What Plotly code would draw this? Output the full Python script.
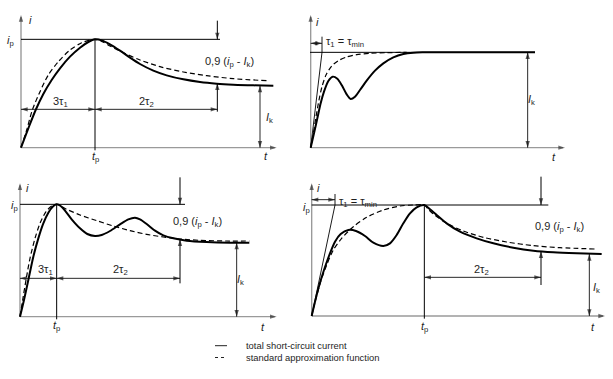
import plotly.graph_objects as go

FIG_W, FIG_H = 613, 379
UNITS_PER_PX = 3.0

# ---------------- data (arbitrary units: t = time, i = current) ----------------
# Panel 1 : single peak, aperiodic decay
p1_solid_t = [0, 22, 44, 67, 92, 117, 147, 177, 202, 222, 242, 267, 297, 327, 357, 397, 437, 487, 537, 587, 637, 697, 757]
p1_solid_i = [0, 58, 113, 161, 203, 238, 273, 300, 317, 325, 322, 310, 291, 270, 251, 231, 217, 205, 197, 192, 189, 187, 186]
p1_dash_t = [0, 17, 34, 57, 82, 112, 147, 182, 207, 222, 242, 267, 307, 357, 417, 487, 557, 637, 737]
p1_dash_i = [0, 53, 113, 168, 218, 258, 293, 315, 323, 325, 319, 305, 285, 263, 243, 227, 216, 207, 201]
p1_ip, p1_ik, p1_tp, p1_t2, p1_i_at_t2 = 325, 186, 222, 589, 193

# Panel 2 : no peak above steady state
p2_solid_t = [0, 10, 20, 30, 40, 53, 66, 80, 93, 108, 120, 133, 148, 168, 193, 218, 248, 278, 308, 338, 673]
p2_solid_i = [0, 43, 88, 133, 168, 200, 213, 207, 188, 160, 146, 153, 173, 201, 231, 253, 271, 281, 285, 286, 286]
p2_dash_t = [0, 8, 16, 25, 34, 46, 63, 83, 108, 138, 178, 228, 288]
p2_dash_i = [0, 43, 93, 143, 183, 218, 245, 261, 272, 279, 283, 285, 286]
p2_ik, p2_tau = 286, 34

# Panel 3 : oscillating decay
p3_solid_t = [0, 12, 25, 40, 55, 70, 85, 98, 110, 122, 135, 155, 180, 202, 225, 245, 270, 300, 325, 345, 360, 380, 405, 430, 460, 500, 560, 630, 688]
p3_solid_i = [0, 50, 110, 180, 235, 280, 312, 330, 337, 332, 318, 292, 265, 248, 242, 245, 257, 277, 292, 297, 292, 278, 258, 244, 235, 228, 224, 222, 222]
p3_dash_t = [0, 8, 18, 30, 45, 60, 78, 95, 110, 140, 180, 230, 280, 330, 380, 430, 480, 540, 620, 688]
p3_dash_i = [0, 50, 110, 175, 235, 280, 315, 332, 337, 322, 305, 288, 272, 258, 247, 239, 233, 229, 227, 227]
p3_ip, p3_ik, p3_tp, p3_t2, p3_i_at_t2 = 337, 222, 110, 480, 232

# Panel 4 : late peak after a first hump
p4_solid_t = [0, 10, 23, 37, 53, 70, 87, 110, 133, 160, 185, 215, 235, 255, 275, 295, 315, 338, 355, 375, 405, 445, 495, 545, 605, 665, 725, 795, 870]
p4_solid_i = [0, 43, 93, 138, 183, 223, 246, 258, 255, 240, 220, 210, 218, 243, 278, 308, 326, 333, 320, 303, 278, 253, 233, 218, 205, 196, 191, 188, 186]
p4_dash_t = [0, 13, 27, 45, 65, 90, 125, 165, 215, 265, 305, 338, 350, 365, 405, 455, 515, 585, 665, 745, 850]
p4_dash_i = [0, 53, 103, 153, 198, 233, 268, 296, 318, 330, 333, 333, 320, 306, 278, 255, 236, 222, 211, 205, 201]
p4_ip, p4_ik, p4_tp, p4_t2, p4_i_at_t2, p4_tau = 333, 186, 338, 688, 194, 70

legend_labels = ["total short-circuit current", "standard approximation function"]

# ---------------- layout helpers ----------------
# pixel position of each panel's origin
ORIGINS = {1: (21, 147.67), 2: (310.67, 147.67), 3: (20, 316.67), 4: (311.67, 316.0)}
FONT = "Liberation Sans, Arial, sans-serif"
TXT = "#1e1e1e"
LBL = 11

fig = go.Figure()
annotations = []
shapes = []


def refs(n):
    s = "" if n == 1 else str(n)
    return "x" + s, "y" + s


def line(n, t, i, width=1.0, dash=None, color="black", spline=False):
    xr, yr = refs(n)
    fig.add_trace(go.Scatter(
        x=t, y=i, xaxis=xr, yaxis=yr, mode="lines", hoverinfo="skip", showlegend=False,
        line=dict(color=color, width=width, dash=dash,
                  shape="spline" if spline else "linear", smoothing=0.8 if spline else None)))


def head(n, tail_t, tail_i, tip_t, tip_i, color="#111"):
    xr, yr = refs(n)
    fig.add_trace(go.Scatter(
        x=[tail_t, tip_t], y=[tail_i, tip_i], xaxis=xr, yaxis=yr, mode="markers",
        hoverinfo="skip", showlegend=False,
        marker=dict(symbol="arrow", size=[0, 7], angleref="previous", color=color,
                    line=dict(width=0))))


def arrow(n, t, i, tail_t, tail_i, both=False, color="#111", draw_line=True):
    if draw_line:
        line(n, [tail_t, t], [tail_i, i], width=0.9, color=color)
    head(n, tail_t, tail_i, t, i, color)
    if both:
        head(n, t, i, tail_t, tail_i, color)


def label(n, x, y, text, xanchor="center", size=LBL):
    xr, yr = refs(n)
    annotations.append(dict(xref=xr, yref=yr, x=x, y=y, text=text, showarrow=False,
                            xanchor=xanchor, yanchor="middle",
                            font=dict(family=FONT, size=size, color=TXT)))


def axes(n, tmax, imax):
    line(n, [0, 0], [0, imax - 6], width=1.4, color="#9a9a9a")
    line(n, [0, tmax - 6], [0, 0], width=1.4, color="#9a9a9a")
    head(n, 0, imax - 18, 0, imax, "#333")
    head(n, tmax - 18, 0, tmax, 0, "#333")


IP = "<i>i</i><sub>p</sub>"
IK = "<i>I</i><sub>k</sub>"
TP = "<i>t</i><sub>p</sub>"
NINE = "0,9 (<i>i</i><sub>p</sub> - <i>I</i><sub>k</sub>)"
TAU = "τ<sub>1</sub> = τ<sub>min</sub>"

# ---------------- Panel 1 ----------------
axes(1, 767, 398)
line(1, [0, 597], [p1_ip, p1_ip])
line(1, [p1_tp, p1_tp], [p1_ip, -8])
arrow(1, 0, 115, p1_tp, 115, both=True)
arrow(1, p1_t2, 115, p1_tp, 115, both=True)
line(1, [p1_t2, p1_t2], [381, p1_ip])
arrow(1, p1_t2, p1_ip, p1_t2, p1_ip + 20, draw_line=False)
line(1, [p1_t2, p1_t2], [108, p1_i_at_t2])
arrow(1, p1_t2, p1_i_at_t2, p1_t2, p1_i_at_t2 - 20, draw_line=False)
arrow(1, 717, p1_ik, 717, 0, both=True)
line(1, p1_dash_t, p1_dash_i, width=1.2, dash="5px,3px", spline=True)
line(1, p1_solid_t, p1_solid_i, width=2, spline=True)
label(1, 27, 383, "<i>i</i>")
label(1, -33, 321, IP)
label(1, 117, 138, "3τ<sub>1</sub>")
label(1, 377, 138, "2τ<sub>2</sub>")
label(1, 545, 258, NINE, xanchor="left")
label(1, 745, 88, IK)
label(1, p1_tp, -28, TP)
label(1, 734, -25, "<i>t</i>")

# ---------------- Panel 2 ----------------
axes(2, 763, 398)
line(2, [-2, 673], [p2_ik, p2_ik])
arrow(2, 651, p2_ik, 651, 0, both=True)
line(2, [0, p2_tau], [0, p2_ik], width=0.9)
line(2, [p2_tau, p2_tau], [p2_ik, 333], width=0.9)
arrow(2, 0, 313, p2_tau, 313, both=True)
line(2, p2_dash_t, p2_dash_i, width=1.2, dash="5px,3px", spline=True)
line(2, p2_solid_t, p2_solid_i, width=2, spline=True)
label(2, 20, 378, "<i>i</i>")
label(2, 40, 318, TAU, xanchor="left")
label(2, 663, 143, IK)
label(2, 730, -27, "<i>t</i>")

# ---------------- Panel 3 ----------------
axes(3, 770, 400)
line(3, [0, 495], [p3_ip, p3_ip])
line(3, [p3_tp, p3_tp], [p3_ip, -8])
arrow(3, 0, 115, p3_tp, 115, both=True)
arrow(3, p3_t2, 115, p3_tp, 115, both=True)
line(3, [p3_t2, p3_t2], [418, p3_ip])
arrow(3, p3_t2, p3_ip, p3_t2, p3_ip + 20, draw_line=False)
line(3, [p3_t2, p3_t2], [100, p3_i_at_t2])
arrow(3, p3_t2, p3_i_at_t2, p3_t2, p3_i_at_t2 - 20, draw_line=False)
arrow(3, 650, p3_ik, 650, 0, both=True)
line(3, p3_dash_t, p3_dash_i, width=1.2, dash="5px,3px", spline=True)
line(3, p3_solid_t, p3_solid_i, width=2, spline=True)
label(3, 22, 385, "<i>i</i>")
label(3, -18, 332, IP)
label(3, 76, 140, "3τ<sub>1</sub>")
label(3, 302, 140, "2τ<sub>2</sub>")
label(3, 453, 285, NINE, xanchor="left")
label(3, 662, 110, IK)
label(3, p3_tp, -28, TP)
label(3, 730, -30, "<i>t</i>")

# ---------------- Panel 4 ----------------
axes(4, 880, 398)
line(4, [0, 710], [p4_ip, p4_ip])
line(4, [p4_tp, p4_tp], [p4_ip, -8])
line(4, [0, p4_tau], [0, p4_ip], width=0.9)
line(4, [p4_tau, p4_tau], [p4_ip, 366], width=0.9)
arrow(4, 0, 349, p4_tau, 349, both=True)
arrow(4, p4_t2, 116, p4_tp, 116, both=True)
line(4, [p4_t2, p4_t2], [418, p4_ip])
arrow(4, p4_t2, p4_ip, p4_t2, p4_ip + 20, draw_line=False)
line(4, [p4_t2, p4_t2], [93, p4_i_at_t2])
arrow(4, p4_t2, p4_i_at_t2, p4_t2, p4_i_at_t2 - 20, draw_line=False)
arrow(4, 833, p4_ik, 833, 0, both=True)
line(4, p4_dash_t, p4_dash_i, width=1.2, dash="5px,3px", spline=True)
line(4, p4_solid_t, p4_solid_i, width=2, spline=True)
label(4, 20, 383, "<i>i</i>")
label(4, -16, 325, IP)
label(4, 75, 343, TAU, xanchor="left")
label(4, 510, 138, "2τ<sub>2</sub>")
label(4, 663, 268, NINE, xanchor="left")
label(4, 855, 83, IK)
label(4, p4_tp, -32, TP)
label(4, 845, -32, "<i>t</i>")

# ---------------- legend (drawn as figure elements) ----------------
leg_y = [1 - 345.7 / FIG_H, 1 - 357.5 / FIG_H]
shapes.append(dict(type="line", xref="paper", yref="paper", x0=215 / FIG_W, x1=227 / FIG_W,
                   y0=leg_y[0], y1=leg_y[0], line=dict(color="#222", width=1)))
shapes.append(dict(type="line", xref="paper", yref="paper", x0=215 / FIG_W, x1=227 / FIG_W,
                   y0=leg_y[1], y1=leg_y[1], line=dict(color="#222", width=1, dash="dot")))
for yy, txt in zip(leg_y, legend_labels):
    annotations.append(dict(xref="paper", yref="paper", x=244 / FIG_W, y=yy, text=txt,
                            showarrow=False, xanchor="left", yanchor="middle",
                            font=dict(family=FONT, size=9.4, color=TXT)))

# ---------------- axes (one overlapping full-size pair per panel) ----------------
axis_layout = {}
for n, (ox, oy) in ORIGINS.items():
    s = "" if n == 1 else str(n)
    axis_layout["xaxis" + s] = dict(domain=[0, 1], anchor="y" + s, visible=False, fixedrange=True,
                                    range=[-ox * UNITS_PER_PX, (FIG_W - ox) * UNITS_PER_PX])
    axis_layout["yaxis" + s] = dict(domain=[0, 1], anchor="x" + s, visible=False, fixedrange=True,
                                    range=[-(FIG_H - oy) * UNITS_PER_PX, oy * UNITS_PER_PX])

fig.update_layout(
    width=FIG_W, height=FIG_H, margin=dict(l=0, r=0, t=0, b=0, autoexpand=False),
    paper_bgcolor="white", plot_bgcolor="rgba(0,0,0,0)",
    showlegend=False, annotations=annotations, shapes=shapes,
    font=dict(family=FONT, color=TXT), **axis_layout)

fig.write_html(
    "out.html", config={"displayModeBar": False},
    post_script="document.body.style.margin='0';document.body.style.padding='0';"
                "document.body.style.overflow='hidden';")
